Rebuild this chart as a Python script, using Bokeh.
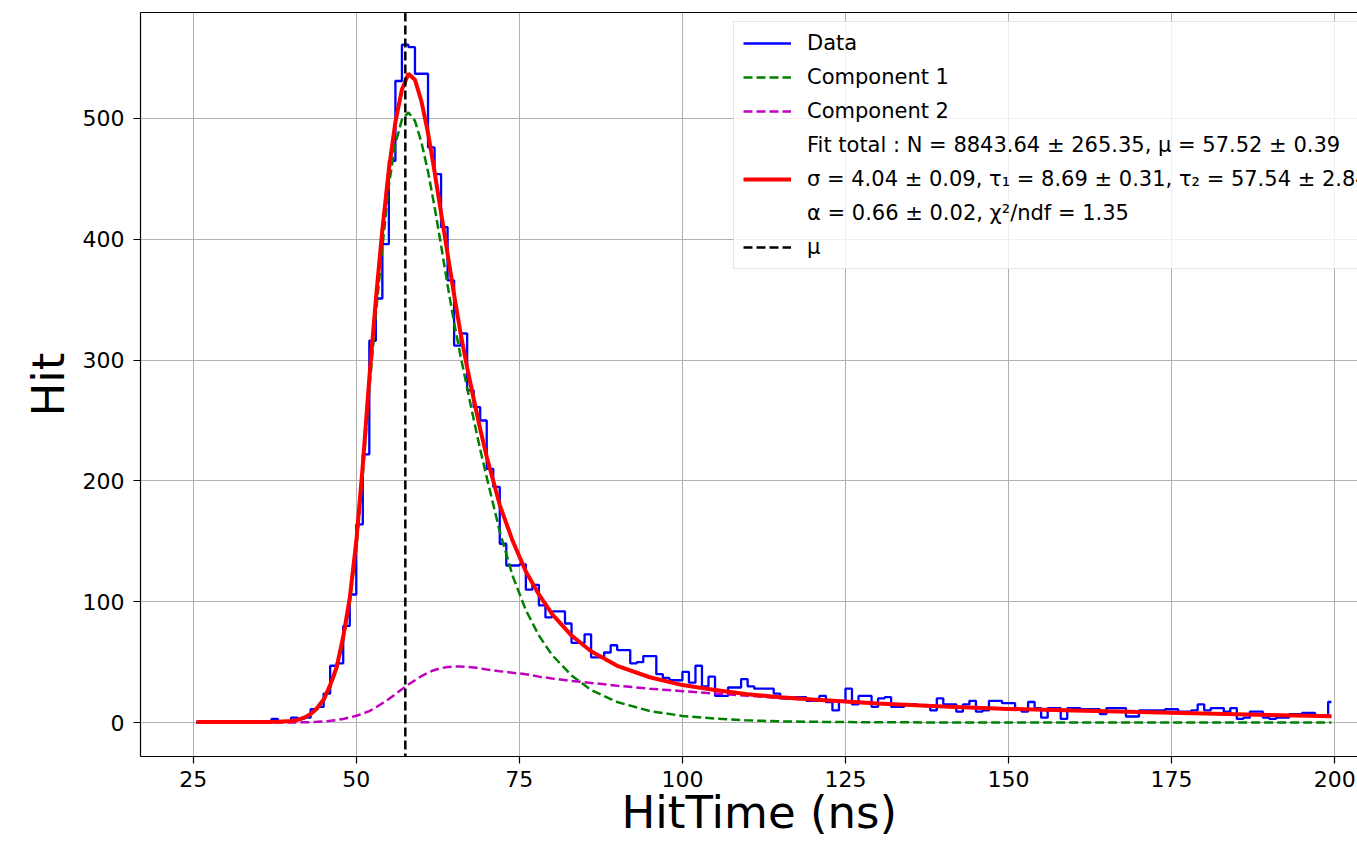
import numpy as np
from bokeh.plotting import figure
from bokeh.models import Range1d, FixedTicker, Span, Legend, LegendItem, Title, LinearAxis
from bokeh.embed import file_html
from bokeh.resources import INLINE

# ---------------- data ----------------
bin_width = 1.0
bin_starts = list(range(25, 200))
counts = [
    0, 0, 0, 0, 0, 0, 1, 0, 0, 0,
    0, 0, 3, 1, 1, 4, 3, 4, 11, 13,
    24, 47, 49, 80, 106, 164, 222, 316, 351, 396,
    465, 531, 561, 559, 537, 537, 476, 454, 410, 366,
    312, 322, 275, 261, 250, 210, 195, 148, 130, 130,
    131, 110, 114, 97, 87, 92, 92, 82, 66, 66,
    73, 54, 54, 58, 64, 60, 60, 49, 50, 55,
    55, 40, 37, 35, 35, 42, 33, 47, 30, 38,
    22, 22, 29, 29, 36, 30, 28, 28, 28, 24,
    20, 20, 21, 21, 18, 18, 22, 17, 10, 18,
    28, 15, 22, 22, 13, 20, 21, 13, 13, 15,
    15, 14, 14, 10, 20, 15, 15, 9, 15, 18,
    9, 10, 18, 18, 16, 16, 11, 9, 17, 12,
    4, 12, 12, 3, 12, 12, 11, 11, 11, 7,
    12, 12, 12, 5, 5, 10, 10, 10, 10, 11,
    11, 9, 9, 10, 15, 10, 12, 12, 9, 12,
    3, 4, 9, 9, 4, 3, 4, 4, 7, 7,
    8, 8, 6, 6, 17,
]

curve_x = [25.5, 30, 35, 38, 40, 41, 42, 43, 44, 45, 46, 47, 48, 49, 50,
           51, 52, 53, 54, 55, 56, 57, 58, 59, 60, 61, 62, 63, 64, 65,
           66, 67, 68, 69, 70, 72, 74, 76, 78, 80, 83, 86, 90, 95, 100,
           105, 110, 115, 120, 130, 140, 150, 160, 170, 180, 190, 199.5]
fit_total = [0.4, 0.4, 0.5, 0.7, 1.3, 2.2, 4, 7, 12, 19, 31, 46, 71, 103, 150,
             213, 285, 350, 408, 458, 497, 524, 537, 532, 514, 488, 456, 422, 388, 354,
             322, 294, 268, 243, 220, 180, 150, 125, 106, 90, 72, 59, 47, 37.5, 31,
             27, 23.5, 21, 19, 15.7, 13.2, 11.3, 10, 8.7, 7.5, 6.3, 5.2]
component1 = [0.2, 0.2, 0.3, 0.5, 1.0, 1.9, 3.5, 6.3, 11, 18, 29, 44, 68, 99, 143,
              205, 275, 338, 393, 445, 479, 499, 505, 498, 480, 456, 427, 395, 362, 331,
              303, 277, 251, 226, 203, 158, 121, 93, 72, 56, 39, 27, 17, 9.5, 5.5,
              3.2, 1.8, 1.0, 0.6, 0.2, 0.1, 0, 0, 0, 0, 0, 0]
component2 = [0, 0, 0, 0.05, 0.1, 0.15, 0.25, 0.35, 0.6, 0.9, 1.4, 2.1, 3, 4.2, 5.6,
              7.4, 9.5, 12.5, 16, 19.5, 23.5, 27.5, 31.5, 35, 38.5, 41.3, 43.5, 45, 46, 46.4,
              46.3, 46, 45.5, 44.8, 44, 42.5, 41.2, 40, 38, 36.5, 34.5, 32.8, 30.5, 28, 26,
              24, 22.2, 20.3, 18.6, 15.5, 13.1, 11.3, 10, 8.7, 7.5, 6.3, 5.2]
mu = 57.52

x_ticks = [25, 50, 75, 100, 125, 150, 175, 200]
y_ticks = [0, 100, 200, 300, 400, 500]

label_data = "Data"
label_c1 = "Component 1"
label_c2 = "Component 2"
label_fit = [
    "Fit total : N = 8843.64 \u00b1 265.35, \u03bc = 57.52 \u00b1 0.39",
    "\u03c3 = 4.04 \u00b1 0.09, \u03c4\u2081 = 8.69 \u00b1 0.31, \u03c4\u2082 = 57.54 \u00b1 2.84",
    "\u03b1 = 0.66 \u00b1 0.02, \u03c7\u00b2/ndf = 1.35",
]
label_mu = "\u03bc"
x_label = "HitTime (ns)"
y_label = "Hit"

FONT = "DejaVu Sans"

# ---------------- figure ----------------
p = figure(width=1357, height=843, output_backend="svg", toolbar_location=None,
           x_range=Range1d(16.92, 203.5), y_range=Range1d(-28.1, 587.7),
           min_border_left=140, min_border_right=0, min_border_top=12, min_border_bottom=87)
p.background_fill_color = "white"
p.border_fill_color = "white"
p.outline_line_color = None

for ax, ticks in ((p.xaxis, x_ticks), (p.yaxis, y_ticks)):
    ax.ticker = FixedTicker(ticks=ticks)
    ax.major_label_text_font = FONT
    ax.major_label_text_font_size = "22px"
    ax.major_label_text_color = "black"
    ax.major_tick_out = 7
    ax.major_tick_in = 0
    ax.minor_tick_out = 0
    ax.minor_tick_in = 0
    ax.axis_line_color = "black"
    ax.axis_line_width = 1.2
    ax.major_tick_line_color = "black"
    ax.major_tick_line_width = 1.2
p.xaxis.major_label_standoff = 7
p.yaxis.major_label_standoff = 9

# top frame line (an axis with no ticks or labels)
top_axis = LinearAxis(ticker=FixedTicker(ticks=[]), major_tick_out=0, major_tick_in=0,
                      minor_tick_out=0, minor_tick_in=0, major_label_text_font_size="0px",
                      axis_line_color="black", axis_line_width=1.2, major_label_standoff=0)
p.add_layout(top_axis, "above")

p.yaxis.axis_label = y_label
p.yaxis.axis_label_text_font = FONT
p.yaxis.axis_label_text_font_size = "45px"
p.yaxis.axis_label_text_font_style = "normal"
p.yaxis.axis_label_text_color = "black"
p.yaxis.axis_label_standoff = 5

p.xgrid.ticker = FixedTicker(ticks=x_ticks)
p.ygrid.ticker = FixedTicker(ticks=y_ticks)
for g in (p.xgrid, p.ygrid):
    g.grid_line_color = "#b0b0b0"
    g.grid_line_width = 1

centers = [s + bin_width / 2 for s in bin_starts]
r_data = p.step(x=centers, y=counts, mode="center", line_color="#0000ff", line_width=2.3)
r_c1 = p.line(x=curve_x, y=component1, line_color="#008000", line_width=2.5, line_dash="9 4")
r_c2 = p.line(x=curve_x, y=component2, line_color="#bf00bf", line_width=2.5, line_dash="9 4")
r_fit = p.line(x=curve_x, y=fit_total, line_color="#ff0000", line_width=4)

p.add_layout(Span(location=mu, dimension="height", line_color="black",
                  line_width=2.5, line_dash="9 4"))
nan = float("nan")
r_mu = p.line(x=[mu, mu], y=[nan, nan], line_color="black", line_width=2.5, line_dash="9 4")
r_blank = p.line(x=[mu, mu], y=[nan, nan], line_alpha=0)

legend = Legend(items=[
    LegendItem(label=label_data, renderers=[r_data]),
    LegendItem(label=label_c1, renderers=[r_c1]),
    LegendItem(label=label_c2, renderers=[r_c2]),
    LegendItem(label=label_fit[0], renderers=[r_blank]),
    LegendItem(label=label_fit[1], renderers=[r_fit]),
    LegendItem(label=label_fit[2], renderers=[r_blank]),
    LegendItem(label=label_mu, renderers=[r_mu]),
], location=(593, 487))
legend.label_text_font = FONT
legend.label_text_font_size = "21px"
legend.label_text_color = "black"
legend.glyph_width = 48
legend.glyph_height = 24
legend.label_height = 24
legend.label_standoff = 16
legend.spacing = 10
legend.padding = 9
legend.margin = 0
legend.border_line_color = "#cccccc"
legend.border_line_width = 1
legend.background_fill_alpha = 0.8
p.add_layout(legend)

xt = Title(text=x_label, align="left", offset=481, standoff=-12,
           text_font=FONT, text_font_size="45px", text_font_style="normal",
           text_color="black")
p.add_layout(xt, "below")

open("out.html", "w").write(file_html(p, INLINE))
